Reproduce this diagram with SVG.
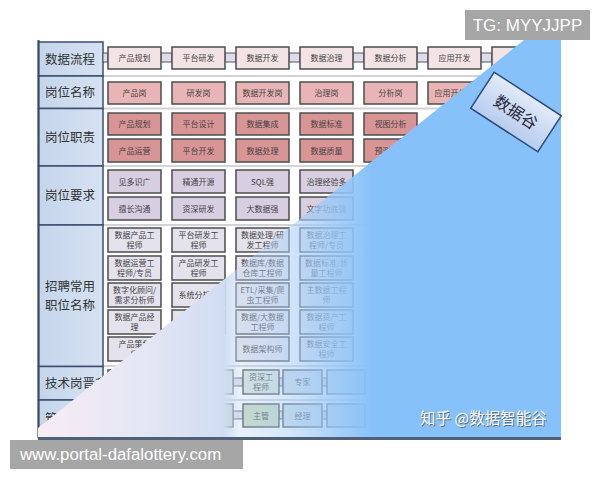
<svg xmlns="http://www.w3.org/2000/svg" width="600" height="480" viewBox="0 0 600 480">
<style>
.hd{fill:url(#hg);stroke:#3d4f70;stroke-width:1.5}
.ht{font-family:"Noto Sans CJK SC","Noto Sans",sans-serif;font-size:12.5px;fill:#333}
.b{stroke:#4d4d4d;stroke-width:1.5}
.r1{fill:#f3e3e5}.r2{fill:#e9b4b6}.r3{fill:#d99496}.r4{fill:#d7cee1}.r5{fill:#e4e2ed}.r6{fill:#d9e4d8}.r7{fill:#c9d9ba}.r8{fill:#cfdde6}
.t{font-family:"Noto Sans CJK SC","Noto Sans",sans-serif;font-size:8px;fill:#444;text-anchor:middle}
.c{fill:#dcdced;stroke:#555;stroke-width:1}
.sep{stroke:#d2d2da;stroke-width:2}
.wm{font-family:"Liberation Sans",Arial,sans-serif;fill:#fff}
</style>
<defs>
<linearGradient id="hg" x1="0" y1="0" x2="1" y2="0"><stop offset="0" stop-color="#c4d5eb"/><stop offset="1" stop-color="#d6e2f2"/></linearGradient>
<linearGradient id="ov" gradientUnits="userSpaceOnUse" x1="38" y1="0" x2="561" y2="0">
<stop offset="0" stop-color="#f7ecf6"/>
<stop offset="0.2" stop-color="#e4e6f4"/>
<stop offset="0.355" stop-color="#d0ddf1"/>
<stop offset="0.385" stop-color="#bfd7f4" stop-opacity="0.35"/>
<stop offset="0.47" stop-color="#abcff6" stop-opacity="0.5"/>
<stop offset="0.56" stop-color="#9ac8f7" stop-opacity="0.8"/>
<stop offset="0.64" stop-color="#86c1f9"/>
<stop offset="1" stop-color="#86c1f9"/>
</linearGradient>
<linearGradient id="dg" x1="0" y1="0" x2="0" y2="1"><stop offset="0" stop-color="#e2ebf8"/><stop offset="1" stop-color="#b7ccef"/></linearGradient>
</defs>
<rect width="600" height="480" fill="#fff"/>

<g id="separators">
<line class="sep" x1="103" y1="76" x2="561" y2="76"/>
<line class="sep" x1="103" y1="108.5" x2="561" y2="108.5"/>
<line class="sep" x1="103" y1="166" x2="561" y2="166"/>
<line class="sep" x1="103" y1="225" x2="561" y2="225"/>
<line class="sep" x1="103" y1="366" x2="561" y2="366"/>
<line class="sep" x1="103" y1="400" x2="561" y2="400"/>
</g>

<g id="header">
<rect class="hd" x="38.5" y="42" width="64.5" height="34"/>
<rect class="hd" x="38.5" y="76" width="64.5" height="32.5"/>
<rect class="hd" x="38.5" y="108.5" width="64.5" height="57.5"/>
<rect class="hd" x="38.5" y="166" width="64.5" height="59"/>
<rect class="hd" x="38.5" y="225" width="64.5" height="141.5"/>
<rect class="hd" x="38.5" y="366.5" width="64.5" height="33.5"/>
<rect class="hd" x="38.5" y="400" width="64.5" height="37"/>
<line x1="38.5" y1="40" x2="38.5" y2="438" stroke="#3a4a68" stroke-width="2"/>
<text class="ht" x="45" y="64">数据流程</text>
<text class="ht" x="45" y="97">岗位名称</text>
<text class="ht" x="45" y="142">岗位职责</text>
<text class="ht" x="45" y="200">岗位要求</text>
<text class="ht" x="45" y="291">招聘常用</text>
<text class="ht" x="45" y="310">职位名称</text>
<text class="ht" x="45" y="388">技术岗晋升</text>
<text class="ht" x="45" y="423">管理岗晋升</text>
</g>

<g id="connectors">
<rect class="c" x="103" y="53" width="5" height="9"/>
<rect class="c" x="161" y="53" width="11" height="9"/>
<rect class="c" x="225" y="53" width="11" height="9"/>
<rect class="c" x="289" y="53" width="11" height="9"/>
<rect class="c" x="353" y="53" width="11" height="9"/>
<rect class="c" x="417" y="53" width="11" height="9"/>
<rect class="c" x="481" y="53" width="11" height="9"/>
<rect class="c" x="144" y="378" width="8" height="8"/>
<rect class="c" x="188" y="378" width="9" height="8"/>
<rect class="c" x="233" y="378" width="10" height="8"/>
<rect class="c" x="279" y="378" width="4" height="8"/>
<rect class="c" x="322" y="378" width="5" height="8"/>
<rect class="c" x="144" y="411" width="8" height="8"/>
<rect class="c" x="188" y="411" width="9" height="8"/>
<rect class="c" x="233" y="411" width="10" height="8"/>
<rect class="c" x="279" y="411" width="4" height="8"/>
<rect class="c" x="322" y="411" width="5" height="8"/>
</g>

<g id="row1">
<g id="n-r1c1"><rect class="b r1" x="108" y="47" width="53" height="22"/><text class="t" x="134.5" y="61">产品规划</text></g>
<g id="n-r1c2"><rect class="b r1" x="172" y="47" width="53" height="22"/><text class="t" x="198.5" y="61">平台研发</text></g>
<g id="n-r1c3"><rect class="b r1" x="236" y="47" width="53" height="22"/><text class="t" x="262.5" y="61">数据开发</text></g>
<g id="n-r1c4"><rect class="b r1" x="300" y="47" width="53" height="22"/><text class="t" x="326.5" y="61">数据治理</text></g>
<g id="n-r1c5"><rect class="b r1" x="364" y="47" width="53" height="22"/><text class="t" x="390.5" y="61">数据分析</text></g>
<g id="n-r1c6"><rect class="b r1" x="428" y="47" width="53" height="22"/><text class="t" x="454.5" y="61">应用开发</text></g>
<g id="n-r1c7"><rect class="b r1" x="492" y="47" width="53" height="22"/></g>
</g>

<g id="row2">
<g id="n-r2c1"><rect class="b r2" x="108" y="82" width="53" height="22"/><text class="t" x="134.5" y="96">产品岗</text></g>
<g id="n-r2c2"><rect class="b r2" x="172" y="82" width="53" height="22"/><text class="t" x="198.5" y="96">研发岗</text></g>
<g id="n-r2c3"><rect class="b r2" x="236" y="82" width="53" height="22"/><text class="t" x="262.5" y="96">数据开发岗</text></g>
<g id="n-r2c4"><rect class="b r2" x="300" y="82" width="53" height="22"/><text class="t" x="326.5" y="96">治理岗</text></g>
<g id="n-r2c5"><rect class="b r2" x="364" y="82" width="53" height="22"/><text class="t" x="390.5" y="96">分析岗</text></g>
<g id="n-r2c6"><rect class="b r2" x="428" y="82" width="53" height="22"/><text class="t" x="454.5" y="96">应用开发岗</text></g>
</g>

<g id="row3">
<g id="n-r3c1a"><rect class="b r3" x="108" y="113" width="53" height="22"/><text class="t" x="134.5" y="127">产品规划</text></g>
<g id="n-r3c2a"><rect class="b r3" x="172" y="113" width="53" height="22"/><text class="t" x="198.5" y="127">平台设计</text></g>
<g id="n-r3c3a"><rect class="b r3" x="236" y="113" width="53" height="22"/><text class="t" x="262.5" y="127">数据集成</text></g>
<g id="n-r3c4a"><rect class="b r3" x="300" y="113" width="53" height="22"/><text class="t" x="326.5" y="127">数据标准</text></g>
<g id="n-r3c5a"><rect class="b r3" x="364" y="113" width="53" height="22"/><text class="t" x="390.5" y="127">视图分析</text></g>
<g id="n-r3c1b"><rect class="b r3" x="108" y="139" width="53" height="23"/><text class="t" x="134.5" y="153.5">产品运营</text></g>
<g id="n-r3c2b"><rect class="b r3" x="172" y="139" width="53" height="23"/><text class="t" x="198.5" y="153.5">平台开发</text></g>
<g id="n-r3c3b"><rect class="b r3" x="236" y="139" width="53" height="23"/><text class="t" x="262.5" y="153.5">数据处理</text></g>
<g id="n-r3c4b"><rect class="b r3" x="300" y="139" width="53" height="23"/><text class="t" x="326.5" y="153.5">数据质量</text></g>
<g id="n-r3c5b"><rect class="b r3" x="364" y="139" width="53" height="23"/><text class="t" x="390.5" y="153.5">预测分析</text></g>
</g>

<g id="row4">
<g id="n-r4c1a"><rect class="b r4" x="108" y="170" width="53" height="23"/><text class="t" x="134.5" y="184.5">见多识广</text></g>
<g id="n-r4c2a"><rect class="b r4" x="172" y="170" width="53" height="23"/><text class="t" x="198.5" y="184.5">精通开源</text></g>
<g id="n-r4c3a"><rect class="b r4" x="236" y="170" width="53" height="23"/><text class="t" x="262.5" y="184.5">SQL强</text></g>
<g id="n-r4c4a"><rect class="b r4" x="300" y="170" width="53" height="23"/><text class="t" x="326.5" y="184.5">治理经验多</text></g>
<g id="n-r4c1b"><rect class="b r4" x="108" y="197" width="53" height="23"/><text class="t" x="134.5" y="211.5">擅长沟通</text></g>
<g id="n-r4c2b"><rect class="b r4" x="172" y="197" width="53" height="23"/><text class="t" x="198.5" y="211.5">资深研发</text></g>
<g id="n-r4c3b"><rect class="b r4" x="236" y="197" width="53" height="23"/><text class="t" x="262.5" y="211.5">大数据强</text></g>
<g id="n-r4c4b"><rect class="b r4" x="300" y="197" width="53" height="23"/><text class="t" x="326.5" y="211.5">文字功底强</text></g>
</g>

<g id="row5">
<g id="n-r5c1a"><rect class="b r5" x="108" y="228" width="53" height="24"/><text class="t" x="134.5" y="238">数据产品工</text><text class="t" x="134.5" y="248">程师</text></g>
<g id="n-r5c1b"><rect class="b r5" x="108" y="256" width="53" height="24"/><text class="t" x="134.5" y="266">数据运营工</text><text class="t" x="134.5" y="276">程师/专员</text></g>
<g id="n-r5c1c"><rect class="b r5" x="108" y="283" width="53" height="24"/><text class="t" x="134.5" y="293">数字化顾问/</text><text class="t" x="134.5" y="303">需求分析师</text></g>
<g id="n-r5c1d"><rect class="b r5" x="108" y="310" width="53" height="24"/><text class="t" x="134.5" y="320">数据产品经</text><text class="t" x="134.5" y="330">理</text></g>
<g id="n-r5c1e"><rect class="b r5" x="108" y="337" width="53" height="24"/><text class="t" x="134.5" y="347">产品策划</text><text class="t" x="134.5" y="357">师</text></g>
<g id="n-r5c2a"><rect class="b r5" x="172" y="228" width="53" height="24"/><text class="t" x="198.5" y="238">平台研发工</text><text class="t" x="198.5" y="248">程师</text></g>
<g id="n-r5c2b"><rect class="b r5" x="172" y="256" width="53" height="24"/><text class="t" x="198.5" y="266">产品研发工</text><text class="t" x="198.5" y="276">程师</text></g>
<g id="n-r5c2c"><rect class="b r5" x="172" y="283" width="53" height="24"/><text class="t" x="198.5" y="298">系统分析师</text></g>
<g id="n-r5c2d"><rect class="b r5" x="172" y="310" width="53" height="24"/></g>
<g id="n-r5c3a"><rect class="b r5" x="236" y="228" width="53" height="24"/><text class="t" x="262.5" y="238">数据处理/研</text><text class="t" x="262.5" y="248">发工程师</text></g>
<g id="n-r5c3b"><rect class="b r5" x="236" y="256" width="53" height="24"/><text class="t" x="262.5" y="266">数据库/数据</text><text class="t" x="262.5" y="276">仓库工程师</text></g>
<g id="n-r5c3c"><rect class="b r5" x="236" y="283" width="53" height="24"/><text class="t" x="262.5" y="293">ETL/采集/爬</text><text class="t" x="262.5" y="303">虫工程师</text></g>
<g id="n-r5c3d"><rect class="b r5" x="236" y="310" width="53" height="24"/><text class="t" x="262.5" y="320">数据/大数据</text><text class="t" x="262.5" y="330">工程师</text></g>
<g id="n-r5c3e"><rect class="b r5" x="236" y="337" width="53" height="24"/><text class="t" x="262.5" y="352">数据架构师</text></g>
<g id="n-r5c4a"><rect class="b r5" x="300" y="228" width="53" height="24"/><text class="t" x="326.5" y="238">数据治理工</text><text class="t" x="326.5" y="248">程师/专员</text></g>
<g id="n-r5c4b"><rect class="b r5" x="300" y="256" width="53" height="24"/><text class="t" x="326.5" y="266">数据标准/质</text><text class="t" x="326.5" y="276">量工程师</text></g>
<g id="n-r5c4c"><rect class="b r5" x="300" y="283" width="53" height="24"/><text class="t" x="326.5" y="293">主数据工程</text><text class="t" x="326.5" y="303">师</text></g>
<g id="n-r5c4d"><rect class="b r5" x="300" y="310" width="53" height="24"/><text class="t" x="326.5" y="320">数据资产工</text><text class="t" x="326.5" y="330">程师</text></g>
<g id="n-r5c4e"><rect class="b r5" x="300" y="337" width="53" height="24"/><text class="t" x="326.5" y="347">数据安全工</text><text class="t" x="326.5" y="357">程师</text></g>
</g>

<g id="row6">
<g id="n-r6a"><rect class="b r6" x="108" y="370" width="36" height="24"/></g>
<g id="n-r6b"><rect class="b r6" x="152" y="370" width="36" height="24"/></g>
<g id="n-r6c"><rect class="b r6" x="197" y="370" width="36" height="24"/></g>
<g id="n-r6d"><rect class="b r6" x="243" y="370" width="36" height="24"/><text class="t" x="261" y="380">资深工</text><text class="t" x="261" y="390">程师</text></g>
<g id="n-r6e"><rect class="b r8" x="283" y="370" width="39" height="24"/><text class="t" x="302.5" y="385">专家</text></g>
<g id="n-r6f"><rect class="b r8" x="327" y="370" width="38" height="24"/></g>
</g>

<g id="row7">
<g id="n-r7a"><rect class="b r7" x="108" y="404" width="36" height="23"/></g>
<g id="n-r7b"><rect class="b r7" x="152" y="404" width="36" height="23"/></g>
<g id="n-r7c"><rect class="b r7" x="197" y="404" width="36" height="23"/></g>
<g id="n-r7d"><rect class="b r7" x="243" y="404" width="36" height="23"/><text class="t" x="261" y="418.5">主管</text></g>
<g id="n-r7e"><rect class="b r8" x="283" y="404" width="39" height="23"/><text class="t" x="302.5" y="418.5">经理</text></g>
<g id="n-r7f"><rect class="b r8" x="327" y="404" width="38" height="23"/></g>
</g>

<g id="curl">
<polygon points="524,40 561,40 561,437 38,437 38,428" fill="url(#ov)"/>
<rect x="38" y="437" width="523" height="3" fill="#506078"/>
</g>

<g id="datagu" transform="translate(516,112) rotate(33)">
<rect x="-40" y="-21.5" width="80" height="43" fill="url(#dg)" stroke="#2b4a7a" stroke-width="1.5"/>
<text x="0" y="6" text-anchor="middle" font-family="Noto Sans CJK SC,sans-serif" font-size="16" fill="#2a2a3a">数据谷</text>
</g>

<g id="watermarks">
<text x="421" y="425" font-family="Noto Sans CJK SC,sans-serif" font-size="15.5" fill="#5a6c86">知乎 @数据智能谷</text>
<text x="420" y="424" font-family="Noto Sans CJK SC,sans-serif" font-size="15.5" fill="#fff">知乎 @数据智能谷</text>
<rect x="465" y="10" width="125" height="30" fill="#a6a6a6"/>
<text class="wm" x="527.5" y="31" font-size="17" text-anchor="middle">TG: MYYJJPP</text>
<rect x="10" y="440" width="233" height="29" fill="#a6a6a6"/>
<text class="wm" x="20" y="460" font-size="16.8">www.portal-dafalottery.com</text>
</g>
</svg>
